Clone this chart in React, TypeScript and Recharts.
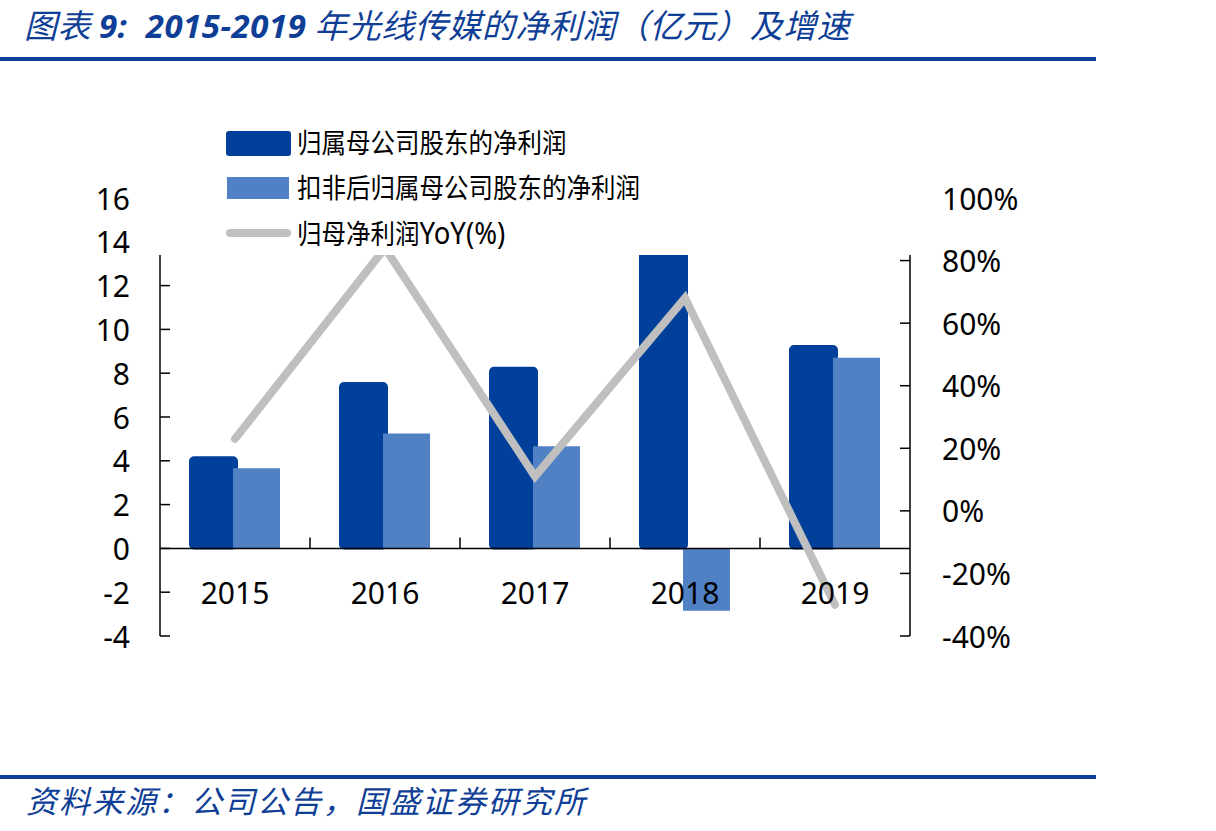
import React from "react"
import { ComposedChart, Bar, Line, XAxis, YAxis, ReferenceLine, Legend } from "recharts"

const years = ["2015", "2016", "2017", "2018", "2019"]
const netProfit = [4.16, 7.55, 8.25, 13.6, 9.24]
const netProfitDeducted = [3.66, 5.25, 4.66, -2.85, 8.7]
const yoy = [23, 84, 11, 68, -30]
const leftTicks = [-4, -2, 0, 2, 4, 6, 8, 10, 12, 14, 16]
const rightTicks = [-40, -20, 0, 20, 40, 60, 80, 100]

const DARK = "#00409A"
const LIGHT = "#4F81C4"
const GRAY = "#BFBFBF"
const TITLE_BLUE = "#0E3E95"
const FONT = "'Noto Sans', 'Noto Sans CJK SC', sans-serif"
const CJK = "'Noto Sans CJK SC', sans-serif"

const W = 1216
const H = 831
const MARGIN = { top: 198, right: 246, bottom: 165, left: 100 }
const PLOT_W = W - MARGIN.left - MARGIN.right - 120
const PLOT_H = H - MARGIN.top - MARGIN.bottom - 30

const data = years.map((year, i) => ({
  year,
  net: netProfit[i],
  deducted: netProfitDeducted[i],
  yoy: yoy[i],
}))

const LeftTick = (props: any) => {
  const { x, y, payload } = props
  return (
    <g>
      <line x1={x} x2={x + 10} y1={y} y2={y} stroke="#000" strokeWidth={1.5} />
      <text x={x - 30} y={y} textAnchor="end" dominantBaseline="central" fontFamily={FONT} fontSize={30} fill="#000">
        {payload.value}
      </text>
    </g>
  )
}

const RightTick = (props: any) => {
  const { x, y, payload } = props
  return (
    <g>
      <line x1={x - 10} x2={x} y1={y} y2={y} stroke="#000" strokeWidth={1.5} />
      <text x={x + 32} y={y} textAnchor="start" dominantBaseline="central" fontFamily={FONT} fontSize={30} fill="#000">
        {payload.value}%
      </text>
    </g>
  )
}

const XTick = (props: any) => {
  const { x, y, payload, index } = props
  // category axis sits on the zero line, not at the plot bottom
  const y0 = y - (PLOT_H * (0 - leftTicks[0])) / (leftTicks[leftTicks.length - 1] - leftTicks[0])
  const half = PLOT_W / years.length / 2
  return (
    <g>
      {index > 0 && <line x1={x - half} x2={x - half} y1={y0 - 11} y2={y0} stroke="#000" strokeWidth={1.5} />}
      <text x={x} y={y0 + 44} textAnchor="middle" dominantBaseline="central" fontFamily={FONT} fontSize={30} fill="#000">
        {payload.value}
      </text>
    </g>
  )
}

const LegendBox = () => {
  const row = (top: number) => ({
    position: "absolute" as const,
    left: 162,
    top: top - 20,
    lineHeight: "40px",
    whiteSpace: "nowrap" as const,
    transform: "scale(1, 1.12)",
    transformOrigin: "left center",
  })
  return (
    <div style={{ position: "relative", width: "100%", height: "100%", fontFamily: FONT, fontSize: 24.5, color: "#000" }}>
      <div style={{ position: "absolute", left: 91, top: 26, width: 65, height: 25, background: DARK, borderRadius: 3 }} />
      <div style={row(38)}>归属母公司股东的净利润</div>
      <div style={{ position: "absolute", left: 92, top: 72, width: 62, height: 22, background: LIGHT }} />
      <div style={row(83)}>扣非后归属母公司股东的净利润</div>
      <div style={{ position: "absolute", left: 91, top: 124, width: 65, height: 8, background: GRAY, borderRadius: 4 }} />
      <div style={row(128)}>
        归母净利润<span style={{ fontSize: 27.5 }}>YoY(%)</span>
      </div>
    </div>
  )
}

export default function App() {
  return (
    <div style={{ position: "absolute", left: 0, top: 0, width: W, height: H, background: "#fff" }}>
      <div
        style={{
          position: "absolute",
          left: 24,
          top: 4,
          fontFamily: CJK,
          fontStyle: "italic",
          fontSize: 33,
          lineHeight: "40px",
          letterSpacing: 0.5,
          color: TITLE_BLUE,
          whiteSpace: "nowrap",
        }}
      >
        图表 <b style={{ fontFamily: FONT }}>9:&nbsp; 2015-2019</b> 年光线传媒的净利润（亿元）及增速
      </div>
      <div style={{ position: "absolute", left: 0, top: 57, width: 1096, height: 4, background: TITLE_BLUE }} />

      <div style={{ position: "absolute", left: 0, top: 0 }}>
        <ComposedChart width={W} height={H} data={data} margin={MARGIN} barSize={47} barGap={-4}>
          <XAxis dataKey="year" height={30} tickSize={0} tickMargin={0} axisLine={false} tickLine={false} tick={<XTick />} />
          <YAxis
            yAxisId="left"
            width={60}
            domain={[leftTicks[0], leftTicks[leftTicks.length - 1]]}
            ticks={leftTicks}
            interval={0}
            tickSize={0}
            tickMargin={0}
            tickLine={false}
            axisLine={{ stroke: "#000", strokeWidth: 1.5 }}
            tick={<LeftTick />}
          />
          <YAxis
            yAxisId="right"
            orientation="right"
            width={60}
            domain={[rightTicks[0], rightTicks[rightTicks.length - 1]]}
            ticks={rightTicks}
            interval={0}
            tickSize={0}
            tickMargin={0}
            tickLine={false}
            axisLine={{ stroke: "#000", strokeWidth: 1.5 }}
            tick={<RightTick />}
          />
          <Bar yAxisId="left" dataKey="net" fill={DARK} stroke={DARK} strokeWidth={2} radius={4} isAnimationActive={false} />
          <Bar yAxisId="left" dataKey="deducted" fill={LIGHT} isAnimationActive={false} />
          <ReferenceLine yAxisId="left" y={0} stroke="#000" strokeWidth={1.5} />
          <Line
            yAxisId="right"
            type="linear"
            dataKey="yoy"
            stroke={GRAY}
            strokeWidth={8}
            strokeLinecap="round"
            dot={false}
            activeDot={false}
            isAnimationActive={false}
          />
          <Legend
            layout="vertical"
            align="center"
            verticalAlign="middle"
            content={<LegendBox />}
            wrapperStyle={{ left: 135, top: 105, width: 800, height: 150, background: "#fff" }}
          />
        </ComposedChart>
      </div>

      <div style={{ position: "absolute", left: 0, top: 775, width: 1096, height: 4, background: TITLE_BLUE }} />
      <div
        style={{
          position: "absolute",
          left: 26,
          top: 780,
          fontFamily: CJK,
          fontStyle: "italic",
          fontSize: 31,
          lineHeight: "40px",
          letterSpacing: 2,
          color: TITLE_BLUE,
          whiteSpace: "nowrap",
        }}
      >
        资料来源：公司公告，国盛证券研究所
      </div>
    </div>
  )
}
